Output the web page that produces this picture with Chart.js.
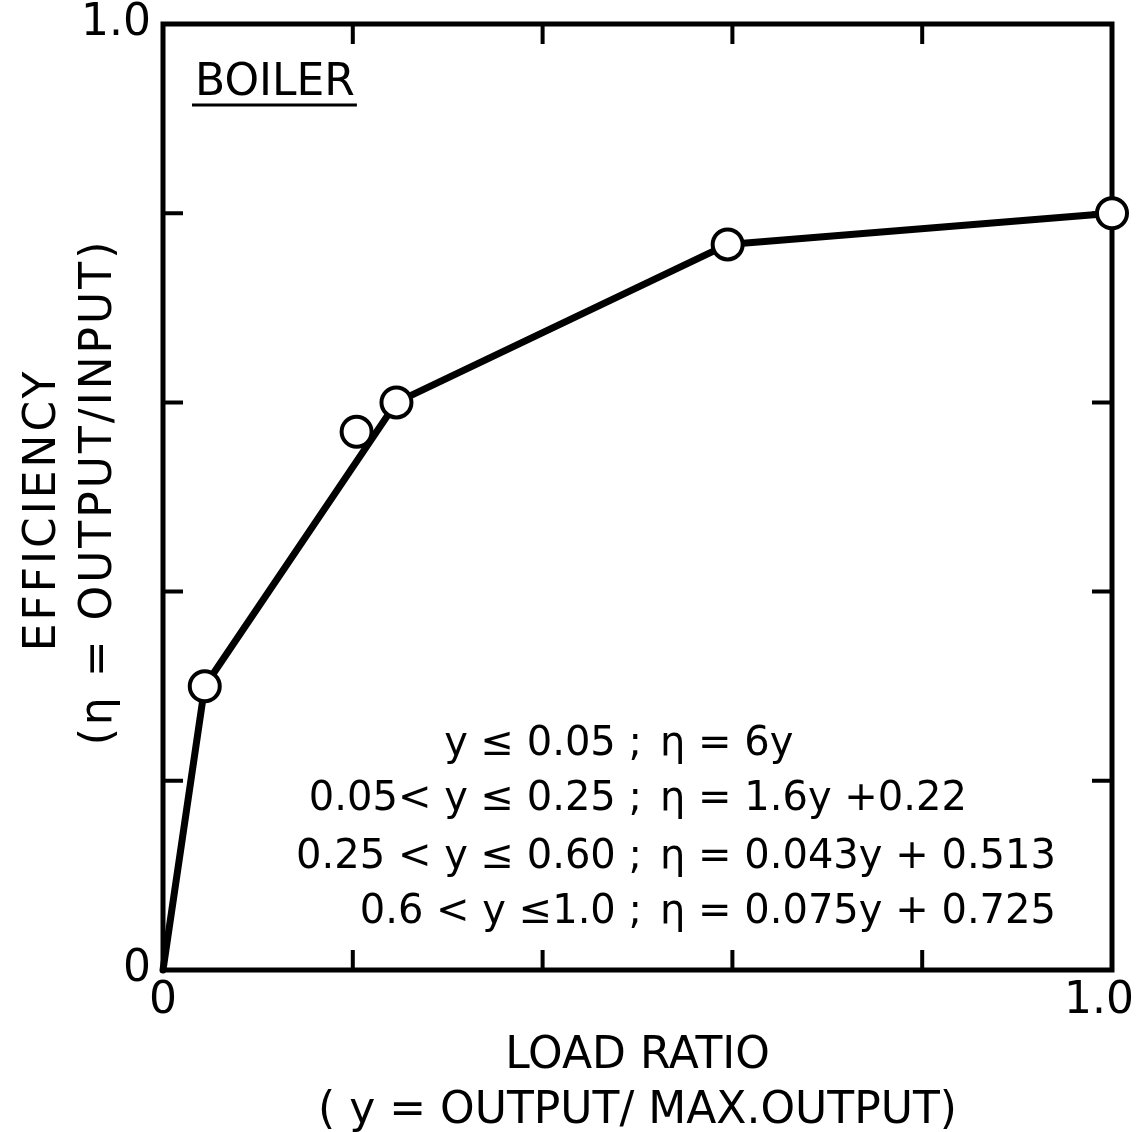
<!DOCTYPE html>
<html>
<head>
<meta charset="utf-8">
<script src="https://cdn.jsdelivr.net/npm/chart.js@4"></script>
<style>
  html, body { margin: 0; padding: 0; background: #fff; }
  canvas { display: block; }
</style>
</head>
<body>
<canvas id="chart" width="1138" height="1132"></canvas>
<script>
// Boiler part-load efficiency curve
const curveLoad = [0, 0.044, 0.246, 0.595, 1.0];
const curveEff  = [0, 0.30, 0.60, 0.767, 0.80];
const pointLoad = [0.044, 0.204, 0.246, 0.595, 1.0];
const pointEff  = [0.30, 0.569, 0.60, 0.767, 0.80];
const tickValues = [0, 0.2, 0.4, 0.6, 0.8, 1.0];
const tickLabels = ['0', '', '', '', '', '1.0'];
const plotTitle = 'BOILER';
const formulaLeft  = ['y ≤ 0.05 ;', '0.05< y ≤ 0.25 ;', '0.25 < y ≤ 0.60 ;', '0.6 < y ≤1.0 ;'];
const formulaRight = ['η = 6y', 'η = 1.6y +0.22', 'η = 0.043y + 0.513', 'η = 0.075y + 0.725'];
const xTitle = ['LOAD RATIO', '( y = OUTPUT/ MAX.OUTPUT)'];
const yTitle = ['EFFICIENCY', '(η = OUTPUT/INPUT)'];

const INK = '#000';
const FONT = '"DejaVu Sans", sans-serif';

function labelFor(v) {
  const i = tickValues.findIndex(t => Math.abs(t - v) < 1e-6);
  return i >= 0 ? tickLabels[i] : '';
}

// keep the plot box fixed: no extra room reserved for overhanging end labels
function fixScale(s, size) {
  if (s.isHorizontal()) s.height = size; else s.width = size;
  s.paddingLeft = s.paddingRight = s.paddingTop = s.paddingBottom = 0;
}

// Frame with inward ticks on all four sides, drawn under the data
const framePlugin = {
  id: 'frame',
  beforeDatasetsDraw(chart) {
    const { ctx, chartArea: { left, right, top, bottom }, scales: { x, y } } = chart;
    ctx.save();
    ctx.strokeStyle = INK;
    ctx.lineWidth = 5;
    ctx.lineCap = 'square';
    ctx.strokeRect(left, top, right - left, bottom - top);
    ctx.lineWidth = 4;
    ctx.lineCap = 'butt';
    const len = 20;
    tickValues.slice(1, -1).forEach(v => {
      const px = x.getPixelForValue(v);
      ctx.beginPath();
      ctx.moveTo(px, bottom); ctx.lineTo(px, bottom - len);
      ctx.moveTo(px, top); ctx.lineTo(px, top + len);
      const py = y.getPixelForValue(v);
      ctx.moveTo(left, py); ctx.lineTo(left + len, py);
      ctx.moveTo(right, py); ctx.lineTo(right - len, py);
      ctx.stroke();
    });
    ctx.restore();
  },
  afterDatasetsDraw(chart) {
    const { ctx, chartArea: { left, right, top, bottom }, scales: { x } } = chart;
    ctx.save();
    ctx.fillStyle = INK;
    ctx.strokeStyle = INK;

    // x tick labels, kept inside the canvas at the right end
    ctx.font = '44px ' + FONT;
    ctx.textAlign = 'center';
    ctx.textBaseline = 'top';
    tickValues.forEach((v, i) => {
      const s = tickLabels[i];
      if (!s) return;
      const half = ctx.measureText(s).width / 2;
      const px = Math.min(x.getPixelForValue(v), chart.width - 4 - half);
      ctx.fillText(s, px, bottom + 10);
    });

    // panel title with underline
    ctx.textAlign = 'left';
    ctx.textBaseline = 'alphabetic';
    const tx = left + 32, ty = top + 71;
    ctx.fillText(plotTitle, tx, ty);
    const w = ctx.measureText(plotTitle).width;
    ctx.lineWidth = 3;
    ctx.beginPath();
    ctx.moveTo(tx - 3, ty + 10); ctx.lineTo(tx + w + 2, ty + 10);
    ctx.stroke();

    // piecewise formulas, aligned on the semicolon
    ctx.font = '40px ' + FONT;
    const semiX = 642;
    const baselines = [755, 810, 868, 923];
    formulaLeft.forEach((s, i) => {
      ctx.textAlign = 'right';
      ctx.fillText(s, semiX, baselines[i]);
      ctx.textAlign = 'left';
      ctx.fillText(formulaRight[i], semiX + 18, baselines[i]);
    });

    // axis titles
    ctx.font = '44px ' + FONT;
    ctx.textAlign = 'center';
    const cx = (left + right) / 2;
    ctx.fillText(xTitle[0], cx, 1068);
    ctx.fillText(xTitle[1], cx, 1123);

    ctx.textBaseline = 'middle';
    ctx.save();
    ctx.translate(44, 510);
    ctx.rotate(-Math.PI / 2);
    ctx.letterSpacing = '3px';
    ctx.fillText(yTitle[0], 0, 0);
    ctx.restore();
    ctx.save();
    ctx.translate(100, 492);
    ctx.rotate(-Math.PI / 2);
    ctx.letterSpacing = '3px';
    ctx.fillText(yTitle[1], 0, 0);
    ctx.restore();

    ctx.restore();
  }
};

const tickFont = { family: FONT, size: 44 };

new Chart(document.getElementById('chart'), {
  type: 'scatter',
  data: {
    datasets: [
      {
        label: 'Measured',
        data: pointLoad.map((v, i) => ({ x: v, y: pointEff[i] })),
        showLine: false,
        pointRadius: 15,
        pointHoverRadius: 15,
        pointBorderWidth: 4,
        pointBackgroundColor: '#fff',
        pointBorderColor: INK,
        clip: false,
        order: 0
      },
      {
        label: 'Fit',
        data: curveLoad.map((v, i) => ({ x: v, y: curveEff[i] })),
        showLine: true,
        borderColor: INK,
        borderWidth: 7,
        borderJoinStyle: 'round',
        borderCapStyle: 'round',
        pointRadius: 0,
        pointHoverRadius: 0,
        clip: false,
        order: 1
      }
    ]
  },
  options: {
    responsive: false,
    devicePixelRatio: 1,
    animation: false,
    events: [],
    layout: { padding: { top: 24, right: 26, left: 0, bottom: 0 } },
    plugins: { legend: { display: false }, tooltip: { enabled: false }, title: { display: false } },
    scales: {
      x: {
        type: 'linear', min: 0, max: 1,
        afterBuildTicks: s => { s.ticks = tickValues.map(v => ({ value: v })); },
        afterFit: s => fixScale(s, 162),
        ticks: { display: false },
        grid: { display: false, drawTicks: false },
        border: { display: false }
      },
      y: {
        type: 'linear', min: 0, max: 1,
        afterBuildTicks: s => { s.ticks = tickValues.map(v => ({ value: v })); },
        afterFit: s => fixScale(s, 163),
        ticks: { callback: v => labelFor(v), font: tickFont, color: INK, padding: 12, autoSkip: false },
        grid: { display: false, drawTicks: false },
        border: { display: false }
      }
    }
  },
  plugins: [framePlugin]
});
</script>
</body>
</html>
